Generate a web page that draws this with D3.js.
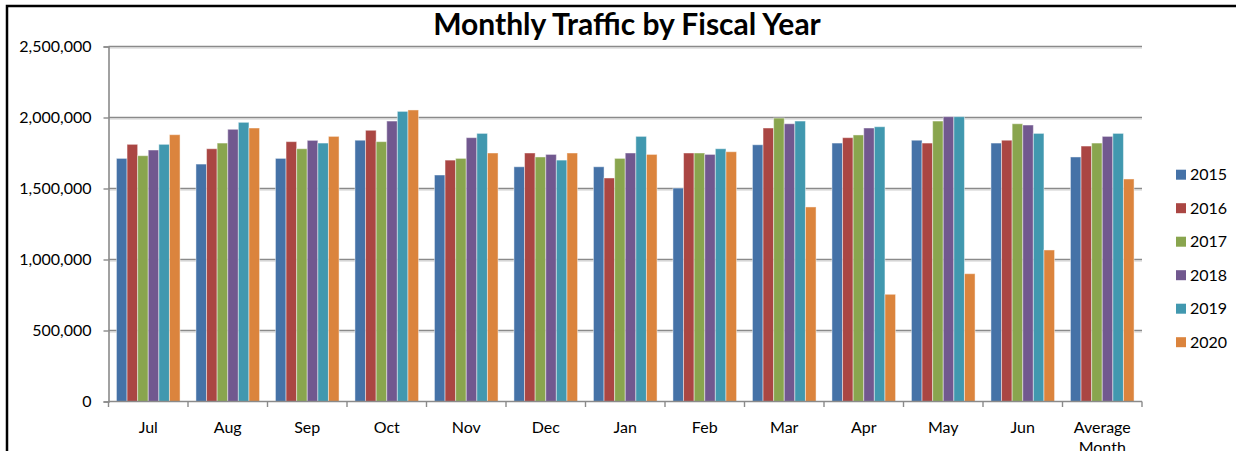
<!DOCTYPE html>
<html>
<head>
<meta charset="utf-8">
<script src="https://cdn.jsdelivr.net/npm/d3@7"></script>
<style>
  html, body { margin: 0; padding: 0; background: #fff; }
  svg { display: block; }
  text { font-family: Lato, "Open Sans", sans-serif; fill: #000; }
</style>
</head>
<body>
<svg id="chart" width="1236" height="451"></svg>
<script>
// Monthly traffic, fiscal years 2015-2020
const months = ["Jul", "Aug", "Sep", "Oct", "Nov", "Dec", "Jan", "Feb", "Mar", "Apr", "May", "Jun", "Average Month"];
const years = ["2015", "2016", "2017", "2018", "2019", "2020"];
const fy2015 = [1712000, 1672000, 1712000, 1840000, 1595000, 1653000, 1653000, 1503000, 1808000, 1820000, 1840000, 1820000, 1722000];
const fy2016 = [1811000, 1780000, 1830000, 1910000, 1700000, 1750000, 1574000, 1750000, 1926000, 1858000, 1820000, 1840000, 1799000];
const fy2017 = [1731000, 1820000, 1780000, 1830000, 1712000, 1722000, 1712000, 1750000, 1996000, 1877000, 1975000, 1956000, 1820000];
const fy2018 = [1771000, 1917000, 1839000, 1975000, 1858000, 1740000, 1750000, 1740000, 1956000, 1926000, 2006000, 1947000, 1867000];
const fy2019 = [1811000, 1966000, 1820000, 2043000, 1888000, 1700000, 1867000, 1780000, 1975000, 1935000, 2006000, 1888000, 1888000];
const fy2020 = [1879000, 1926000, 1867000, 2053000, 1750000, 1750000, 1740000, 1759000, 1370000, 755000, 900000, 1067000, 1567000];
const yTicks = [0, 500000, 1000000, 1500000, 2000000, 2500000];
const colors = ["#4572A7", "#AA4643", "#89A54E", "#71588F", "#4198AF", "#DB843D"];

const series = [fy2015, fy2016, fy2017, fy2018, fy2019, fy2020];

const svg = d3.select("#chart");
const plot = { left: 108.5, right: 1142, top: 46.5, bottom: 401.5 };

// chart frame (runs past the right and bottom edges)
svg.append("rect")
  .attr("x", 7).attr("y", 6)
  .attr("width", 1300).attr("height", 500)
  .attr("fill", "none").attr("stroke", "#000").attr("stroke-width", 2.5);

const x0 = d3.scaleBand().domain(months).range([plot.left, plot.right]).paddingInner(0).paddingOuter(0);
const x1 = d3.scaleBand().domain(years).range([0, x0.bandwidth()]).paddingInner(0).paddingOuter(0.75);
const y = d3.scaleLinear().domain([0, 2500000]).range([plot.bottom, plot.top]);

// horizontal gridlines with a faint shadow
const grid = svg.append("g");
yTicks.filter(t => t > 0).forEach(t => {
  grid.append("line")
    .attr("x1", plot.left).attr("x2", plot.right)
    .attr("y1", y(t) + 1.6).attr("y2", y(t) + 1.6)
    .attr("stroke", "#dedede").attr("stroke-width", 1.2);
  grid.append("line")
    .attr("x1", plot.left).attr("x2", plot.right)
    .attr("y1", y(t)).attr("y2", y(t))
    .attr("stroke", "#8a8a8a").attr("stroke-width", 1.6);
});

// bars
const groups = svg.append("g").selectAll("g")
  .data(months)
  .join("g")
  .attr("transform", d => `translate(${x0(d)},0)`);

groups.selectAll("rect")
  .data((m, i) => years.map((yr, k) => ({ yr, k, v: series[k][i] })))
  .join("rect")
  .attr("x", d => x1(d.yr))
  .attr("width", x1.bandwidth())
  .attr("y", d => y(d.v))
  .attr("height", d => y(0) - y(d.v))
  .attr("fill", d => colors[d.k])
  .attr("stroke", "rgba(255,255,255,0.45)")
  .attr("stroke-width", 1);

// y axis
const yAxis = d3.axisLeft(y)
  .tickValues(yTicks)
  .tickFormat(d3.format(","))
  .tickSize(5)
  .tickPadding(12);
const yg = svg.append("g").attr("transform", `translate(${plot.left},0)`).call(yAxis);
yg.select(".domain").attr("stroke", "#8a8a8a").attr("stroke-width", 1.6);
yg.selectAll(".tick line").attr("stroke", "#8a8a8a").attr("stroke-width", 1.4);
yg.selectAll(".tick text").attr("font-size", 16).attr("font-family", "Lato, sans-serif").attr("fill", "#000");

// x axis: ticks sit on category boundaries
const xg = svg.append("g").attr("transform", `translate(0,${plot.bottom})`);
xg.append("line")
  .attr("x1", plot.left).attr("x2", plot.right)
  .attr("stroke", "#8a8a8a").attr("stroke-width", 1.6);
const boundaries = months.map(m => x0(m)).concat([plot.right]);
xg.selectAll("line.tk")
  .data(boundaries)
  .join("line")
  .attr("class", "tk")
  .attr("x1", d => d).attr("x2", d => d)
  .attr("y1", 0).attr("y2", 5.5)
  .attr("stroke", "#8a8a8a").attr("stroke-width", 1.4);

const xl = xg.selectAll("text.lbl")
  .data(months)
  .join("text")
  .attr("class", "lbl")
  .attr("x", d => x0(d) + x0.bandwidth() / 2)
  .attr("y", 31)
  .attr("text-anchor", "middle")
  .attr("font-size", 16);
xl.each(function (d) {
  const words = d.split(" ");
  const t = d3.select(this);
  words.forEach((w, i) => {
    t.append("tspan")
      .attr("x", x0(d) + x0.bandwidth() / 2)
      .attr("dy", i === 0 ? 0 : 20)
      .text(w);
  });
});

// title
svg.append("text")
  .attr("x", 627)
  .attr("y", 35)
  .attr("text-anchor", "middle")
  .attr("font-size", 30)
  .attr("font-weight", "bold")
  .text("Monthly Traffic by Fiscal Year");

// legend
const legend = svg.append("g").attr("transform", "translate(1176,0)");
years.forEach((yr, k) => {
  const cy = 174.7 + k * 33.5;
  legend.append("rect")
    .attr("x", 0).attr("y", cy - 5)
    .attr("width", 10).attr("height", 10)
    .attr("fill", colors[k]);
  legend.append("text")
    .attr("x", 14).attr("y", cy)
    .attr("dy", "0.36em")
    .attr("font-size", 16)
    .text(yr);
});
</script>
</body>
</html>
